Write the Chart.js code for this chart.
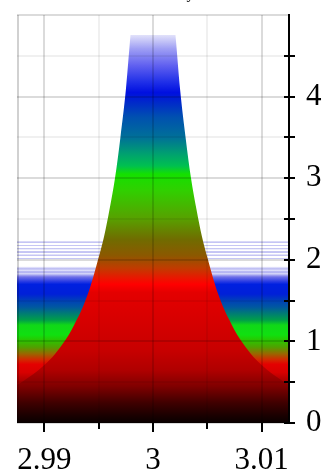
<!DOCTYPE html>
<html lang="en">
  <head>
    <meta charset="UTF-8" />
    <title>Density</title>
    <script src="https://cdn.jsdelivr.net/npm/chart.js"></script>
    <style>
      body { margin: 0; background: #fff; }
      .grafico { position: relative; width: 322px; height: 476px; }
    </style>
  </head>
  <body>
    <div class="grafico">
      <canvas id="myCanvas"></canvas>
    </div>

    <script>
      // peak profile (x, height)
      const xValues = [
        2.9875, 2.988, 2.989, 2.99, 2.991, 2.992, 2.9925, 2.993, 2.9935, 2.994, 2.9945,
        2.995, 2.9955, 2.996, 2.9965, 2.997, 2.9975, 2.998, 2.9985, 2.999, 2.9995, 3.0,
        3.0005, 3.001, 3.0015, 3.002, 3.0025, 3.003, 3.0035, 3.004, 3.0045, 3.005,
        3.0055, 3.006, 3.0065, 3.007, 3.0075, 3.008, 3.009, 3.01, 3.011, 3.012, 3.0125
      ];
      const peakValues = [
        0.47, 0.51, 0.6, 0.71, 0.85, 1.03, 1.14, 1.27, 1.41, 1.58, 1.79,
        2.03, 2.29, 2.62, 3.0, 3.5, 4.08, 4.85, 5.35, 5.75, 6.1, 6.3,
        6.1, 5.75, 5.35, 4.85, 4.08, 3.5, 3.0, 2.62, 2.29, 2.03,
        1.79, 1.58, 1.41, 1.27, 1.14, 1.03, 0.85, 0.71, 0.6, 0.51, 0.47
      ];
      // flat background level
      const bgX = [2.9874, 3.0126];
      const bgValues = [2.26, 2.26];

      const xMin = 2.98748, xMax = 3.01252;
      const yMin = 0, yMax = 5;

      // colour stops (value, colour)
      const peakStops = [
        [0, "#080000"], [0.1, "#1c0000"], [0.25, "#400000"], [0.45, "#800000"],
        [0.65, "#b00000"], [0.9, "#c80000"], [1.3, "#d80000"], [1.6, "#e40000"],
        [1.7, "#ff0000"], [1.78, "#e81800"], [1.9, "#c03c00"], [2.05, "#8c5800"],
        [2.25, "#706c00"], [2.5, "#58a000"], [2.85, "#30d000"], [3.05, "#14e000"],
        [3.15, "#00c050"], [3.3, "#00a070"], [3.5, "#007098"], [3.75, "#0050b0"],
        [3.97, "#0020d0"], [4.05, "#0010e0"], [4.18, "#2030e8"], [4.38, "#6060f0"],
        [4.59, "#a0a0f4"], [4.75, "#e0e0fa"], [4.76, "#ffffff"], [5, "#ffffff"]
      ];
      const bgStops = [
        [0, "#060000"], [0.19, "#300000"], [0.4, "#800000"], [0.55, "#b80000"],
        [0.62, "#d80000"], [0.72, "#e40000"], [0.78, "#d02c00"], [0.85, "#986800"],
        [0.93, "#50a000"], [1.02, "#28c800"], [1.08, "#10e010"], [1.2, "#10d818"],
        [1.26, "#00a048"], [1.35, "#007878"], [1.42, "#0058a0"], [1.5, "#0040b8"],
        [1.58, "#0020d8"], [1.7, "#0020e0"], [1.74, "#3040e4"], [1.79, "#7070e8"],
        [1.81, "#a0a0f0"], [1.83, "#d8d8f8"], [1.85, "#a8a8f0"], [1.87, "#e0e0fa"],
        [1.89, "#b8b8f2"], [1.91, "#e8e8fc"], [1.92, "#ffffff"], [2.0, "#ffffff"]
      ];
      // faint stripes at the top of the background band
      for (let v = 2.005; v < 2.24; v += 0.04) {
        bgStops.push([v, "#ffffff"], [v + 0.004, "#c4c4f4"], [v + 0.018, "#c8c8f4"], [v + 0.022, "#ffffff"]);
      }
      bgStops.push([2.26, "#ffffff"]);

      function gradient(chart, stops, top) {
        const { ctx, chartArea, scales } = chart;
        if (!chartArea) return "#000";
        const y0 = scales.y.getPixelForValue(0);
        const y1 = scales.y.getPixelForValue(top);
        const g = ctx.createLinearGradient(0, y0, 0, y1);
        stops.forEach(([v, c]) => g.addColorStop(Math.min(1, v / top), c));
        return g;
      }

      const isWhole = (v, f) => Math.abs(v * f - Math.round(v * f)) < 1e-6;

      const tickMarks = {
        id: "tickMarks",
        afterDraw(chart) {
          const { ctx, chartArea: a, scales } = chart;
          ctx.save();
          ctx.strokeStyle = "rgba(0,0,0,0.18)";
          ctx.lineWidth = 2;
          ctx.beginPath();
          ctx.moveTo(a.left + 1, a.top);
          ctx.lineTo(a.left + 1, a.bottom);
          ctx.stroke();

          ctx.strokeStyle = "#000";
          ctx.beginPath();
          scales.x.ticks.forEach((t) => {
            const px = Math.round(scales.x.getPixelForValue(t.value));
            ctx.moveTo(px, a.bottom);
            ctx.lineTo(px, a.bottom + (isWhole(t.value, 100) ? 9 : 6));
          });
          scales.y.ticks.forEach((t) => {
            if (t.value >= yMax) return;
            const py = Math.round(scales.y.getPixelForValue(t.value));
            ctx.moveTo(a.right - 5, py);
            ctx.lineTo(a.right + 6, py);
          });
          ctx.stroke();
          ctx.restore();
        },
      };

      const tickFont = { family: "'Liberation Serif', 'Times New Roman', serif", size: 31, lineHeight: 1 };

      new Chart(document.getElementById("myCanvas"), {
        type: "line",
        data: {
          datasets: [
            {
              label: "peak",
              data: xValues.map((x, i) => ({ x: x, y: peakValues[i] })),
              order: 1,
              borderWidth: 0,
              pointRadius: 0,
              cubicInterpolationMode: "monotone",
              fill: "origin",
              backgroundColor: (c) => gradient(c.chart, peakStops, yMax),
            },
            {
              label: "background",
              data: bgX.map((x, i) => ({ x: x, y: bgValues[i] })),
              order: 2,
              borderWidth: 0,
              pointRadius: 0,
              fill: "origin",
              backgroundColor: (c) => gradient(c.chart, bgStops, 2.26),
            },
          ],
        },
        options: {
          responsive: true,
          maintainAspectRatio: false,
          animation: false,
          layout: { padding: { left: 17 } },
          plugins: {
            legend: { display: false },
            tooltip: { enabled: false },
            title: {
              display: true,
              text: "Density",
              color: "#000",
              font: { family: "'Liberation Serif', serif", size: 16, weight: "normal" },
              padding: { top: -15.5, bottom: 11.3 },
            },
          },
          scales: {
            x: {
              type: "linear",
              min: xMin,
              max: xMax,
              afterFit: (s) => { s.paddingLeft = 0; s.paddingRight = 0; s.height = 53; },
              grid: {
                z: 1,
                drawTicks: false,
                lineWidth: 2,
                color: (c) => (c.tick && isWhole(c.tick.value, 100) ? "rgba(0,0,0,0.14)" : "rgba(0,0,0,0.06)"),
              },
              border: { display: false },
              ticks: {
                stepSize: 0.005,
                includeBounds: false,
                autoSkip: false,
                maxRotation: 0,
                padding: 22,
                color: "#000",
                font: tickFont,
                callback: (v) => (isWhole(v, 100) ? String(Math.round(v * 100) / 100) : ""),
              },
            },
            y: {
              position: "right",
              min: yMin,
              max: yMax,
              afterFit: (s) => { s.paddingTop = 0; s.paddingBottom = 0; s.width = 33; },
              grid: {
                z: 1,
                drawTicks: false,
                lineWidth: 2,
                color: (c) => (c.tick && Number.isInteger(c.tick.value) ? "rgba(0,0,0,0.14)" : "rgba(0,0,0,0.06)"),
              },
              border: { display: true, color: "#000", width: 2, z: 1 },
              ticks: {
                stepSize: 0.5,
                padding: 17,
                color: "#000",
                font: tickFont,
                callback: (v) => (Number.isInteger(v) && v < yMax ? String(v) : ""),
              },
            },
          },
        },
        plugins: [tickMarks],
      });
    </script>
  </body>
</html>
